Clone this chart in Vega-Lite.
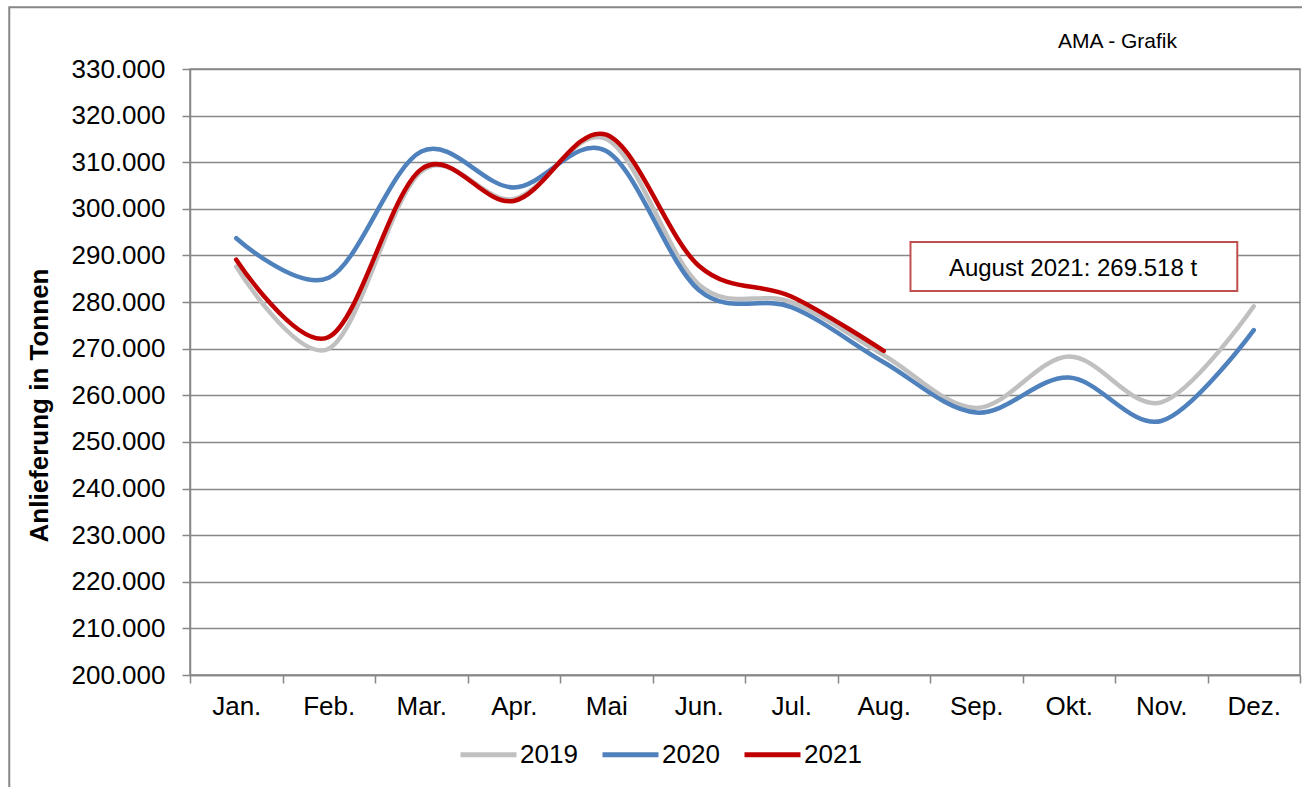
{
  "$schema": "https://vega.github.io/schema/vega-lite/v6.json",
  "width": 1110,
  "height": 606,
  "autosize": "none",
  "padding": {"left": 190, "top": 69, "right": 2, "bottom": 112},
  "background": "white",
  "config": {
    "font": "Liberation Sans",
    "view": {"stroke": "#878787", "strokeWidth": 1.5}
  },
  "layer": [
    {
      "data": {
        "values": [
          {"Monat": "Jan.", "Jahr": "2019", "Tonnen": 287600},
          {"Monat": "Feb.", "Jahr": "2019", "Tonnen": 270000},
          {"Monat": "Mar.", "Jahr": "2019", "Tonnen": 308000},
          {"Monat": "Apr.", "Jahr": "2019", "Tonnen": 302100},
          {"Monat": "Mai", "Jahr": "2019", "Tonnen": 315000},
          {"Monat": "Jun.", "Jahr": "2019", "Tonnen": 283800},
          {"Monat": "Jul.", "Jahr": "2019", "Tonnen": 280000},
          {"Monat": "Aug.", "Jahr": "2019", "Tonnen": 268600},
          {"Monat": "Sep.", "Jahr": "2019", "Tonnen": 257300},
          {"Monat": "Okt.", "Jahr": "2019", "Tonnen": 268300},
          {"Monat": "Nov.", "Jahr": "2019", "Tonnen": 258500},
          {"Monat": "Dez.", "Jahr": "2019", "Tonnen": 279100},
          {"Monat": "Jan.", "Jahr": "2020", "Tonnen": 293700},
          {"Monat": "Feb.", "Jahr": "2020", "Tonnen": 285200},
          {"Monat": "Mar.", "Jahr": "2020", "Tonnen": 312300},
          {"Monat": "Apr.", "Jahr": "2020", "Tonnen": 304600},
          {"Monat": "Mai", "Jahr": "2020", "Tonnen": 312400},
          {"Monat": "Jun.", "Jahr": "2020", "Tonnen": 282600},
          {"Monat": "Jul.", "Jahr": "2020", "Tonnen": 278900},
          {"Monat": "Aug.", "Jahr": "2020", "Tonnen": 267100},
          {"Monat": "Sep.", "Jahr": "2020", "Tonnen": 256300},
          {"Monat": "Okt.", "Jahr": "2020", "Tonnen": 263800},
          {"Monat": "Nov.", "Jahr": "2020", "Tonnen": 254500},
          {"Monat": "Dez.", "Jahr": "2020", "Tonnen": 274000},
          {"Monat": "Jan.", "Jahr": "2021", "Tonnen": 289100},
          {"Monat": "Feb.", "Jahr": "2021", "Tonnen": 272500},
          {"Monat": "Mar.", "Jahr": "2021", "Tonnen": 308500},
          {"Monat": "Apr.", "Jahr": "2021", "Tonnen": 301700},
          {"Monat": "Mai", "Jahr": "2021", "Tonnen": 315900},
          {"Monat": "Jun.", "Jahr": "2021", "Tonnen": 287800},
          {"Monat": "Jul.", "Jahr": "2021", "Tonnen": 281200},
          {"Monat": "Aug.", "Jahr": "2021", "Tonnen": 269518}
        ]
      },
      "mark": {"type": "line", "interpolate": "cardinal", "strokeWidth": 4.5, "strokeCap": "round"},
      "encoding": {
        "x": {
          "field": "Monat",
          "type": "nominal",
          "sort": ["Jan.", "Feb.", "Mar.", "Apr.", "Mai", "Jun.", "Jul.", "Aug.", "Sep.", "Okt.", "Nov.", "Dez."],
          "scale": {"type": "band", "paddingInner": 0, "paddingOuter": 0},
          "axis": {
            "title": null,
            "tickBand": "extent",
            "tickSize": 8,
            "tickColor": "#878787",
            "tickWidth": 1.5,
            "domainColor": "#878787",
            "domainWidth": 1.5,
            "labelFontSize": 26,
            "labelColor": "black",
            "labelPadding": 10,
            "labelAngle": 0,
            "grid": false
          }
        },
        "y": {
          "field": "Tonnen",
          "type": "quantitative",
          "scale": {"domain": [200000, 330000], "zero": false, "nice": false},
          "axis": {
            "title": "Anlieferung in Tonnen",
            "values": [200000, 210000, 220000, 230000, 240000, 250000, 260000, 270000, 280000, 290000, 300000, 310000, 320000, 330000],
            "labelExpr": "replace(format(datum.value, ',d'), ',', '.')",
            "labelFontSize": 26,
            "labelColor": "black",
            "labelPadding": 17,
            "tickSize": 8,
            "tickColor": "#878787",
            "tickWidth": 1.5,
            "domainColor": "#878787",
            "domainWidth": 1.5,
            "grid": true,
            "gridColor": "#878787",
            "gridWidth": 1.5,
            "titleFontSize": 26,
            "titleFontWeight": "bold",
            "titleColor": "black",
            "titleX": -143,
            "titleY": 336,
            "titleBaseline": "alphabetic"
          }
        },
        "color": {
          "field": "Jahr",
          "type": "nominal",
          "scale": {"domain": ["2019", "2020", "2021"], "range": ["#C0C0C0", "#4F81BD", "#C00000"]},
          "legend": {
            "title": null,
            "orient": "none",
            "direction": "horizontal",
            "legendX": 268,
            "legendY": 655,
            "symbolType": "stroke",
            "symbolSize": 3136,
            "symbolStrokeWidth": 5,
            "labelFontSize": 26,
            "labelColor": "black",
            "labelOffset": 1,
            "columnPadding": 14
          }
        }
      }
    },
    {
      "data": {"values": [{"x": -1.954, "x2": 12.3, "y": 343236, "y2": 165000}]},
      "mark": {"type": "rect", "fill": null, "fillOpacity": 0, "stroke": "#878787", "strokeWidth": 2},
      "encoding": {
        "x": {"field": "x", "type": "quantitative", "scale": {"domain": [0, 12], "nice": false, "zero": false}, "axis": null},
        "x2": {"field": "x2"},
        "y": {"field": "y", "type": "quantitative", "scale": {"domain": [200000, 330000], "nice": false, "zero": false}, "axis": null},
        "y2": {"field": "y2"}
      }
    },
    {
      "data": {"values": [{"x": 7.789, "x2": 11.322, "y": 292888, "y2": 282377}]},
      "mark": {"type": "rect", "fill": "white", "stroke": "#C0504D", "strokeWidth": 2},
      "encoding": {
        "x": {"field": "x", "type": "quantitative", "scale": {"domain": [0, 12], "nice": false, "zero": false}, "axis": null},
        "x2": {"field": "x2"},
        "y": {"field": "y", "type": "quantitative", "scale": {"domain": [200000, 330000], "nice": false, "zero": false}, "axis": null},
        "y2": {"field": "y2"}
      }
    },
    {
      "data": {
        "values": [
          {"x": 9.546, "y": 285600, "label": "August 2021: 269.518 t", "f": "Lato", "s": 24},
          {"x": 10.027, "y": 334440, "label": "AMA - Grafik", "f": "Liberation Sans", "s": 21}
        ]
      },
      "mark": {"type": "text", "align": "center", "baseline": "alphabetic", "color": "black"},
      "encoding": {
        "x": {"field": "x", "type": "quantitative", "scale": {"domain": [0, 12], "nice": false, "zero": false}, "axis": null},
        "y": {"field": "y", "type": "quantitative", "scale": {"domain": [200000, 330000], "nice": false, "zero": false}, "axis": null},
        "text": {"field": "label"},
        "font": {"field": "f"},
        "size": {"field": "s", "type": "quantitative", "scale": null}
      }
    }
  ],
  "resolve": {"scale": {"x": "independent", "y": "independent", "color": "independent", "size": "independent"}}
}
